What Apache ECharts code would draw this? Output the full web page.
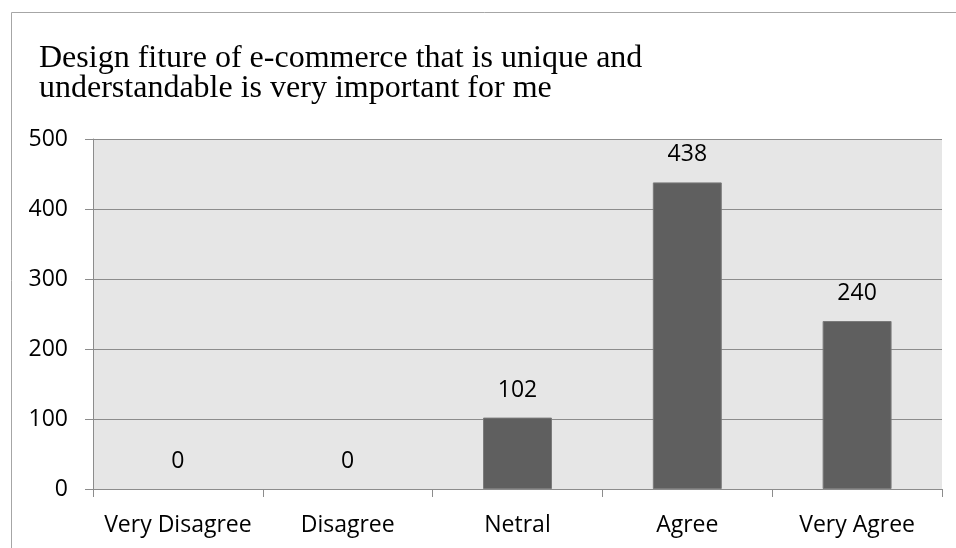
<!DOCTYPE html>
<html>
<head>
<meta charset="utf-8">
<script src="https://cdn.jsdelivr.net/npm/echarts@6/dist/echarts.min.js"></script>
<style>
  html, body { margin: 0; padding: 0; background: #fff; }
  #chart { width: 956px; height: 548px; }
</style>
</head>
<body>
<div id="chart"></div>
<script>
// Survey answers and their response counts
const categories = ['Very Disagree', 'Disagree', 'Netral', 'Agree', 'Very Agree'];
const counts = [0, 0, 102, 438, 240];
const yTicks = [0, 100, 200, 300, 400, 500];

const chart = echarts.init(document.getElementById('chart'), null, { renderer: 'canvas' });

const labelFont = { fontFamily: 'Open Sans', fontSize: 23, color: '#000' };

// Empty answers get no outline so they leave no sliver on the baseline
const barData = counts.map(v => ({
  value: v,
  itemStyle: v === 0 ? { borderWidth: 0 } : {}
}));

chart.setOption({
  animation: false,
  backgroundColor: '#fff',
  title: {
    text: 'Design fiture of e-commerce that is unique and\nunderstandable is very important for me',
    left: 34,
    top: 39,
    textStyle: {
      fontFamily: 'Liberation Serif',
      fontSize: 32,
      fontWeight: 'normal',
      lineHeight: 30,
      color: '#000'
    }
  },
  graphic: [{
    type: 'rect',
    shape: { x: 11.5, y: 12.5, width: 1000, height: 1000 },
    style: { fill: 'none', stroke: '#a6a6a6', lineWidth: 1 },
    silent: true,
    z: -1
  }],
  grid: {
    left: 93,
    top: 139,
    right: 14,
    bottom: 59,
    show: true,
    backgroundColor: '#e6e6e6',
    borderWidth: 0
  },
  xAxis: {
    type: 'category',
    data: categories,
    axisLine: { show: true, lineStyle: { color: '#8c8c8c', width: 1 } },
    axisTick: { show: true, interval: 0, alignWithLabel: false, length: 8, lineStyle: { color: '#8c8c8c' } },
    axisLabel: Object.assign({ margin: 25, interval: 0, hideOverlap: false }, labelFont),
    splitLine: { show: false }
  },
  yAxis: {
    type: 'value',
    min: yTicks[0],
    max: yTicks[yTicks.length - 1],
    interval: yTicks[1] - yTicks[0],
    axisLine: { show: true, lineStyle: { color: '#8c8c8c', width: 1 } },
    axisTick: { show: true, length: 8, lineStyle: { color: '#8c8c8c' } },
    axisLabel: Object.assign({ margin: 25 }, labelFont),
    splitLine: { show: true, lineStyle: { color: '#8c8c8c', width: 1.2 } }
  },
  series: [{
    type: 'bar',
    data: barData,
    barWidth: '40.6%',
    itemStyle: { color: '#5f5f5f', borderColor: '#7a7a7a', borderWidth: 1 },
    label: {
      show: true,
      position: 'top',
      distance: 16,
      fontFamily: 'Open Sans',
      fontSize: 23,
      color: '#000'
    }
  }]
});
</script>
</body>
</html>
